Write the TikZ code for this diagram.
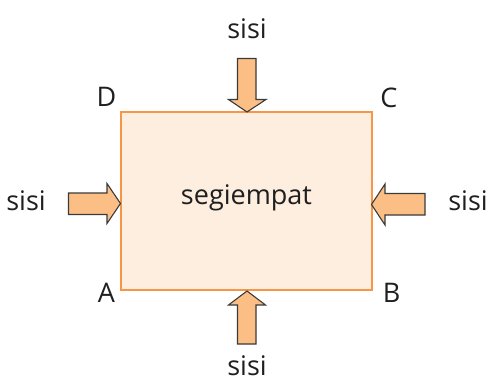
\documentclass[tikz,border=0pt]{standalone}
\usepackage{fontspec}
\setmainfont{Open Sans}
\definecolor{rectfill}{HTML}{FDEEDF}
\definecolor{rectline}{HTML}{F79646}
\definecolor{arrfill}{HTML}{FBBF86}
\definecolor{arrline}{HTML}{3A3A3A}
\begin{document}
\begin{tikzpicture}[x=1pt,y=-1pt,
  lbl/.style={font=\fontsize{27}{30}\selectfont, text=black!88, inner sep=0pt},
  blockarrow/.style={fill=arrfill, draw=arrline, line width=1.1pt, line join=miter}]
\useasboundingbox (0,0) rectangle (499,389);
% rectangle
\draw[fill=rectfill, draw=rectline, line width=1.3pt] (121,112) rectangle (372,290);
\node[lbl] (seg) at (246.5,198) {segiempat};
% corner labels
\node[lbl] (D) at (106.5,96.5) {D};
\node[lbl] (C) at (389,98) {C};
\node[lbl] (A) at (106.5,292.5) {A};
\node[lbl] (B) at (391.5,292.5) {B};
% side labels
\node[lbl] (stop) at (247,29) {sisi};
\node[lbl] (sleft) at (26,201) {sisi};
\node[lbl] (sright) at (468,201) {sisi};
\node[lbl] (sbot) at (247,366) {sisi};
% block arrows
\draw[blockarrow] (237.5,58.5) -- (256,58.5) -- (256,99.5) -- (266,99.5) -- (247,112) -- (228.5,99.5) -- (237.5,99.5) -- cycle;
\draw[blockarrow] (237.5,344) -- (256,344) -- (256,305) -- (265.5,305) -- (247,291) -- (228.5,305) -- (237.5,305) -- cycle;
\draw[blockarrow] (68.5,193) -- (107,193) -- (107,183.5) -- (120.5,203.5) -- (107,223.5) -- (107,214.5) -- (68.5,214.5) -- cycle;
\draw[blockarrow] (425,193.5) -- (385,193.5) -- (385,184) -- (371.5,204.5) -- (385,225) -- (385,215) -- (425,215) -- cycle;
\end{tikzpicture}
\end{document}
